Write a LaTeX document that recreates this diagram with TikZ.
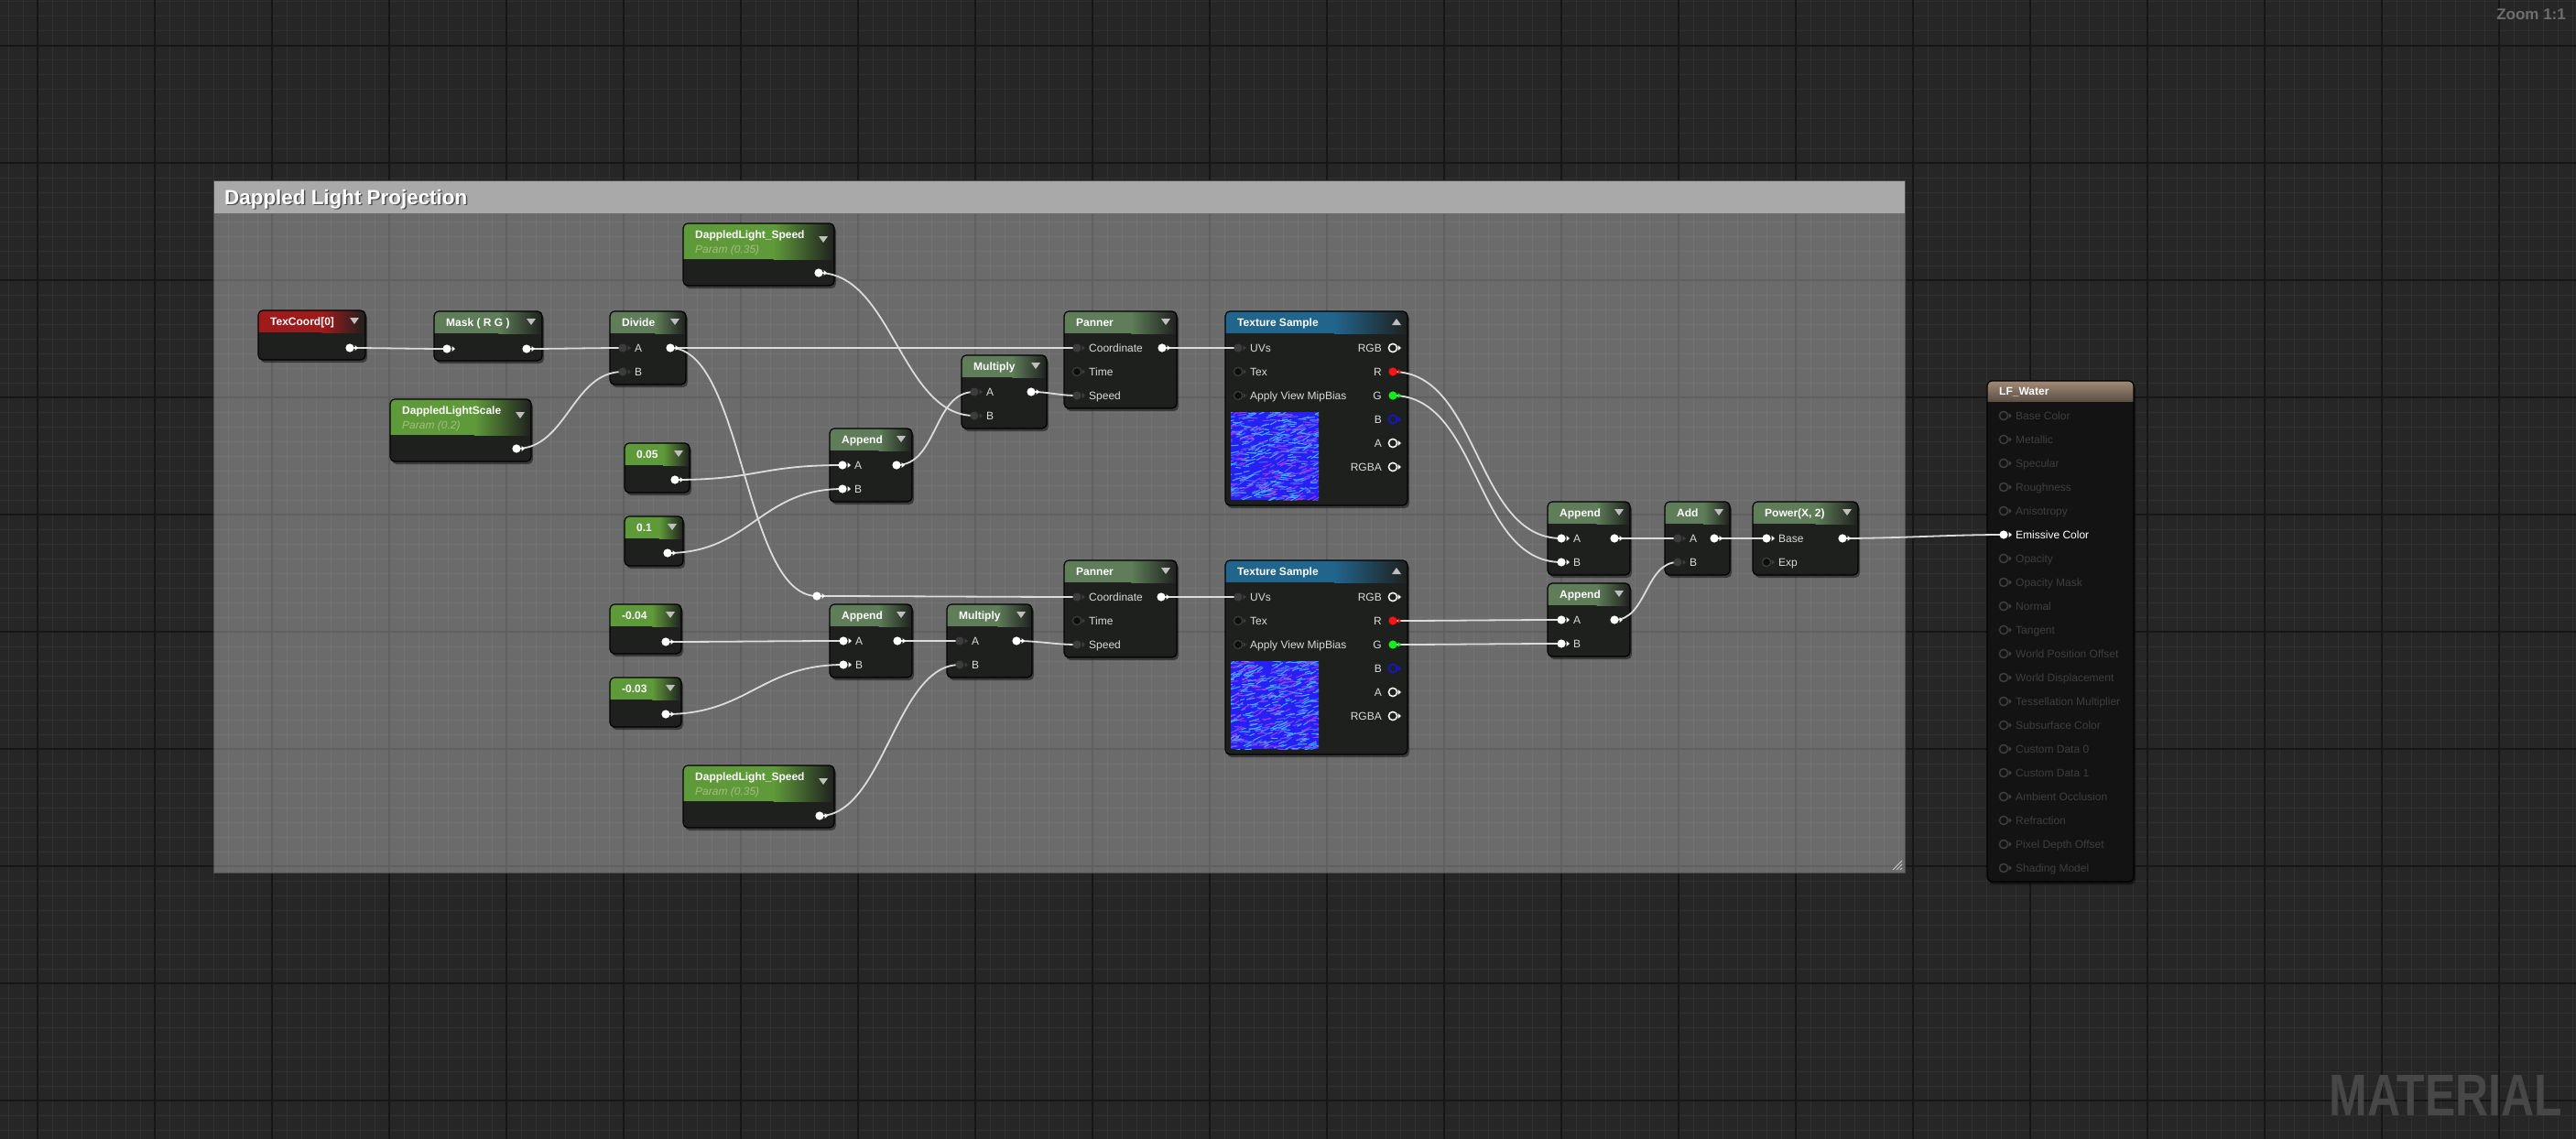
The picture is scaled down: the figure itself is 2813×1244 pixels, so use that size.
\documentclass[tikz,border=0pt]{standalone}
\usepackage{fontspec}
\setmainfont{Liberation Sans}
\usetikzlibrary{positioning}

\definecolor{canvasc}{HTML}{262626}
\definecolor{finec}{HTML}{303030}
\definecolor{boldc}{HTML}{161616}
\definecolor{cmtbarc}{HTML}{A9A9A9}
\definecolor{nodebodyc}{HTML}{1E201E}
\definecolor{hdrop}{HTML}{5E7D58}
\definecolor{hdrconst}{HTML}{5F9A3A}
\definecolor{hdrcoord}{HTML}{9E1B1B}
\definecolor{hdrtex}{HTML}{21648C}
\definecolor{paramc}{HTML}{A3BE80}
\definecolor{wirec}{HTML}{DCDCDC}
\definecolor{labelc}{HTML}{DADADA}
\definecolor{pingreyc}{HTML}{3C3C3C}
\definecolor{pinredc}{HTML}{FF1414}
\definecolor{pingreenc}{HTML}{14F014}
\definecolor{pinbluec}{HTML}{1414E0}
\definecolor{dimc}{HTML}{3E3E3E}
\definecolor{texbasec}{HTML}{2620F4}
\definecolor{texcyanc}{HTML}{44A6FF}
\definecolor{texpinkc}{HTML}{9A36E6}
\definecolor{texlightc}{HTML}{5A5AFF}
\definecolor{resultA}{HTML}{A08B76}
\definecolor{resultB}{HTML}{5E5045}
\definecolor{lfbodyc}{HTML}{131313}

\tikzset{
  gridfine/.style={draw=finec, line width=1pt},
  gridbold/.style={draw=boldc, line width=1.2pt},
  nodebox/.style={anchor=north west, fill=nodebodyc, rounded corners=5pt, inner sep=0pt, outer sep=0pt},
  nodeedge/.style={draw=black, line width=1.2pt, rounded corners=5pt},
  nodeshadow/.style={fill=black, opacity=.45, rounded corners=5pt},
  hdrtext/.style={anchor=west, inner sep=0pt, text=white, font=\bfseries\fontsize{12}{14}\selectfont, text height=8.6pt, text depth=0pt},
  paramtext/.style={anchor=west, inner sep=0pt, text=paramc, font=\itshape\fontsize{12}{14}\selectfont, text height=8.6pt, text depth=0pt},
  pinlabel/.style={inner sep=0pt, text=labelc, font=\fontsize{12}{14}\selectfont, text height=8.6pt, text depth=0pt},
  lflabel/.style={inner sep=0pt, text=dimc, font=\fontsize{12}{14}\selectfont, text height=8.6pt, text depth=0pt},
  cmttext/.style={anchor=base west, inner sep=0pt, text=white, font=\bfseries\fontsize{22.4}{26}\selectfont},
  droptri/.style={fill=white!75!black},
  wire/.style={draw=wirec, line width=1.8pt},
  pinon/.style={fill=white},
  pindim/.style={fill=pingreyc},
  pinfree/.style={fill=black!60!nodebodyc, draw=pingreyc, line width=1.2pt},
  pinring/.style={draw=white, line width=1.5pt},
  pinred/.style={fill=pinredc},
  pingreen/.style={fill=pingreenc},
  pinblue/.style={draw=pinbluec, line width=1.5pt},
  lfring/.style={draw=dimc, line width=1.5pt}
}

\newcommand\matnode[8]{%
  \fill[nodeshadow] (#2+2,#3+3) rectangle ++(#4,#5);
  \node[nodebox, minimum width=#4pt, minimum height=#5pt] (#1) at (#2,#3) {};
  \begin{scope}
    \clip[rounded corners=5pt] (#2,#3) rectangle ++(#4,#5);
    \fill[#7] (#2,#3) rectangle ++(.6*#4,#6);
    \shade[left color=#7, right color=nodebodyc] (#2+.6*#4-.5,#3) rectangle (#2+#4,#3+#6);
  \end{scope}
  \draw[nodeedge] (#2,#3) rectangle ++(#4,#5);
  \node[hdrtext] (#1-title) at (#2+13,#3+12) {#8};}

\newcommand\pin[3]{\path[#1] (#3) circle (4.6pt); \fill[#2] (#3) ++(5.5,-3) -- ++(3.5,3) -- ++(-3.5,3) -- cycle;}

\newcommand\texprev[2]{%
  \begin{scope}
    \clip (#1,#2) rectangle ++(96,96);
    \fill[texbasec] (#1,#2) rectangle ++(96,96);
    \foreach \k in {1,...,480}{
      \pgfmathsetmacro\tx{#1+104*rnd-8}
      \pgfmathsetmacro\ty{#2+100*rnd-2}
      \pgfmathsetmacro\tl{4+7*rnd}
      \pgfmathsetmacro\ta{-35+45*rnd}
      \pgfmathsetmacro\tc{rnd}
      \ifdim\tc pt<.5pt \def\tcol{texcyanc}\else\ifdim\tc pt<.75pt \def\tcol{texpinkc}\else\def\tcol{texlightc}\fi\fi
      \draw[\tcol, line width=1.1pt, line cap=round] (\tx,\ty) -- ++(\ta:\tl);
    }
  \end{scope}}

\begin{document}
\begin{tikzpicture}[x=1pt, y=-1pt]
  \useasboundingbox (0,0) rectangle (2813,1244);
  \fill[canvasc] (0,0) rectangle (2813,1244);
  \foreach \gx in {9,25,...,2813} \draw[gridfine] (\gx,0) -- (\gx,1244);
  \foreach \gy in {2,18,...,1244} \draw[gridfine] (0,\gy) -- (2813,\gy);
  \foreach \gx in {41,169,...,2813} \draw[gridbold] (\gx,0) -- (\gx,1244);
  \foreach \gy in {50,178,...,1244} \draw[gridbold] (0,\gy) -- (2813,\gy);

  \fill[white, opacity=.32] (233,197) rectangle (2080,953);
  \fill[cmtbarc] (233,197) rectangle (2080,233);
  \draw[black!70, line width=1pt] (233,197) rectangle (2080,953);
  \node[cmttext, text=black, opacity=.55] (cmt-shadow) at (246.5,224.5) {Dappled Light Projection};
  \node[cmttext] (cmt-title) at (245,223) {Dappled Light Projection};
  \foreach \k in {0,4,8} \draw[white!80!black, line width=1pt] (2077,940+\k) -- (2067+\k,950);

  \matnode{texcoord}{282}{339}{117}{54}{24}{hdrcoord}{TexCoord[0]}
  \matnode{mask}{474}{340}{118}{54}{24}{hdrop}{Mask ( R G )}
  \matnode{divide}{666}{340}{83}{80}{24}{hdrop}{Divide}
  \matnode{speedA}{746}{244}{165}{68}{39}{hdrconst}{DappledLight\_Speed}
  \matnode{scale}{426}{436}{154}{68}{39}{hdrconst}{DappledLightScale}
  \matnode{cA}{682}{484}{71}{54}{24}{hdrconst}{0.05}
  \matnode{cB}{682}{564}{64}{54}{24}{hdrconst}{0.1}
  \matnode{appendA}{906}{468}{90}{80}{24}{hdrop}{Append}
  \matnode{multA}{1050}{388}{93}{80}{24}{hdrop}{Multiply}
  \matnode{pannerA}{1162}{340}{123}{106}{24}{hdrop}{Panner}
  \matnode{texA}{1338}{340}{199}{212}{24}{hdrtex}{Texture Sample}
  \matnode{cC}{666}{660}{78}{54}{24}{hdrconst}{-0.04}
  \matnode{cD}{666}{740}{78}{54}{24}{hdrconst}{-0.03}
  \matnode{appendB}{906}{660}{90}{80}{24}{hdrop}{Append}
  \matnode{multB}{1034}{660}{93}{80}{24}{hdrop}{Multiply}
  \matnode{pannerB}{1162}{612}{123}{106}{24}{hdrop}{Panner}
  \matnode{texB}{1338}{612}{199}{212}{24}{hdrtex}{Texture Sample}
  \matnode{speedB}{746}{836}{165}{68}{39}{hdrconst}{DappledLight\_Speed}
  \matnode{appendC}{1690}{548}{90}{80}{24}{hdrop}{Append}
  \matnode{appendD}{1690}{637}{90}{80}{24}{hdrop}{Append}
  \matnode{add}{1818}{548}{71}{80}{24}{hdrop}{Add}
  \matnode{power}{1914}{548}{115}{80}{24}{hdrop}{Power(X, 2)}
  \node[paramtext] (speedA-sub) at (759,272) {Param (0.35)};
  \node[paramtext] (scale-sub) at (439,464) {Param (0.2)};
  \node[paramtext] (speedB-sub) at (759,864) {Param (0.35)};

  \fill[nodeshadow] (2172,419) rectangle ++(160,547);
  \node[nodebox, fill=lfbodyc, minimum width=160pt, minimum height=547pt] (lfwater) at (2170,416) {};
  \begin{scope}
    \clip[rounded corners=5pt] (2170,416) rectangle ++(160,547);
    \shade[top color=resultA, bottom color=resultB] (2170,416) rectangle ++(160,22);
  \end{scope}
  \draw[nodeedge] (2170,416) rectangle ++(160,547);
  \node[hdrtext] (lfwater-title) at (2183,427) {LF\_Water};

  \foreach \n in {texcoord,mask,divide,cA,cB,appendA,multA,pannerA,cC,cD,appendB,multB,pannerB,appendC,appendD,add,power}
    \fill[droptri] ([shift={(-17,8)}]\n.north east) -- ++(10,0) -- ++(-5,7) -- cycle;
  \foreach \n in {speedA,scale,speedB}
    \fill[droptri] ([shift={(-17,14)}]\n.north east) -- ++(10,0) -- ++(-5,7) -- cycle;
  \foreach \n in {texA,texB}
    \fill[droptri] ([shift={(-17,15)}]\n.north east) -- ++(10,0) -- ++(-5,-7) -- cycle;

  \pgfmathsetseed{17}
  \texprev{1344}{450}
  \texprev{1344}{722}

  \coordinate (texcoord-out) at (382,380);
  \coordinate (mask-in) at (488,381); \coordinate (mask-out) at (575,381);
  \coordinate (divide-a) at (680,380); \coordinate (divide-b) at (680,406); \coordinate (divide-out) at (732,380);
  \coordinate (speedA-out) at (894,298); \coordinate (scale-out) at (564,490);
  \coordinate (cA-out) at (737,524); \coordinate (cB-out) at (729,604);
  \coordinate (appendA-a) at (920,508); \coordinate (appendA-b) at (920,534); \coordinate (appendA-out) at (979,508);
  \coordinate (multA-a) at (1064,428); \coordinate (multA-b) at (1064,454); \coordinate (multA-out) at (1126,428);
  \coordinate (pannerA-coord) at (1176,380); \coordinate (pannerA-time) at (1176,406); \coordinate (pannerA-speed) at (1176,432); \coordinate (pannerA-out) at (1269,380);
  \coordinate (texA-uvs) at (1352,380); \coordinate (texA-tex) at (1352,406); \coordinate (texA-mip) at (1352,432);
  \coordinate (texA-rgb) at (1521,380); \coordinate (texA-r) at (1521,406); \coordinate (texA-g) at (1521,432);
  \coordinate (texA-b) at (1521,458); \coordinate (texA-a) at (1521,484); \coordinate (texA-rgba) at (1521,510);
  \coordinate (reroute) at (892,651);
  \coordinate (cC-out) at (727,701); \coordinate (cD-out) at (727,780);
  \coordinate (appendB-a) at (921,700); \coordinate (appendB-b) at (921,726); \coordinate (appendB-out) at (980,700);
  \coordinate (multB-a) at (1048,700); \coordinate (multB-b) at (1048,726); \coordinate (multB-out) at (1110,700);
  \coordinate (pannerB-coord) at (1176,652); \coordinate (pannerB-time) at (1176,678); \coordinate (pannerB-speed) at (1176,704); \coordinate (pannerB-out) at (1268,652);
  \coordinate (texB-uvs) at (1352,652); \coordinate (texB-tex) at (1352,678); \coordinate (texB-mip) at (1352,704);
  \coordinate (texB-rgb) at (1521,652); \coordinate (texB-r) at (1521,678); \coordinate (texB-g) at (1521,704);
  \coordinate (texB-b) at (1521,730); \coordinate (texB-a) at (1521,756); \coordinate (texB-rgba) at (1521,782);
  \coordinate (speedB-out) at (895,891);
  \coordinate (appendC-a) at (1705,588); \coordinate (appendC-b) at (1705,614); \coordinate (appendC-out) at (1763,588);
  \coordinate (appendD-a) at (1705,677); \coordinate (appendD-b) at (1705,703); \coordinate (appendD-out) at (1763,677);
  \coordinate (add-a) at (1832,588); \coordinate (add-b) at (1832,614); \coordinate (add-out) at (1872,588);
  \coordinate (power-base) at (1929,588); \coordinate (power-exp) at (1929,614); \coordinate (power-out) at (2012,588);
  \coordinate (lf-5) at (2188,584);

  \foreach \a/\b/\d in {texcoord-out/mask-in/30, mask-out/divide-a/30, scale-out/divide-b/55,
      divide-out/pannerA-coord/100, divide-out/reroute/80, reroute/pannerB-coord/60,
      speedA-out/multA-b/80, cA-out/appendA-a/90, cB-out/appendA-b/90, appendA-out/multA-a/45,
      multA-out/pannerA-speed/20, pannerA-out/texA-uvs/30, cC-out/appendB-a/60, cD-out/appendB-b/90,
      appendB-out/multB-a/30, speedB-out/multB-b/70, multB-out/pannerB-speed/25, pannerB-out/texB-uvs/30,
      texA-r/appendC-a/95, texA-g/appendC-b/95, texB-r/appendD-a/60, texB-g/appendD-b/60,
      appendC-out/add-a/25, appendD-out/add-b/35, add-out/power-base/25, power-out/lf-5/60}
    {\draw[wire] (\a) .. controls +(\d,0) and +(-\d,0) .. (\b);}

  \foreach \p in {texcoord-out,mask-in,mask-out,divide-out,speedA-out,scale-out,cA-out,cB-out,
      appendA-a,appendA-b,appendA-out,multA-out,pannerA-out,reroute,cC-out,cD-out,appendB-a,appendB-b,
      appendB-out,multB-out,pannerB-out,speedB-out,appendC-a,appendC-b,appendC-out,appendD-a,appendD-b,
      appendD-out,add-out,power-base,power-out,lf-5}
    {\pin{pinon}{white}{\p}}
  \foreach \p in {divide-a,divide-b,multA-a,multA-b,pannerA-coord,pannerA-speed,texA-uvs,
      multB-a,multB-b,pannerB-coord,pannerB-speed,texB-uvs,add-a,add-b}
    {\pin{pindim}{pingreyc}{\p}}
  \foreach \p in {pannerA-time,pannerB-time,texA-tex,texA-mip,texB-tex,texB-mip,power-exp}
    {\pin{pinfree}{pingreyc}{\p}}
  \foreach \p in {texA-rgb,texA-a,texA-rgba,texB-rgb,texB-a,texB-rgba} {\pin{pinring}{white}{\p}}
  \foreach \p in {texA-r,texB-r} {\pin{pinred}{pinredc}{\p}}
  \foreach \p in {texA-g,texB-g} {\pin{pingreen}{pingreenc}{\p}}
  \foreach \p in {texA-b,texB-b} {\pin{pinblue}{pinbluec}{\p}}

  \foreach \p/\t in {divide-a/A, divide-b/B, appendA-a/A, appendA-b/B, multA-a/A, multA-b/B,
      pannerA-coord/Coordinate, pannerA-time/Time, pannerA-speed/Speed,
      texA-uvs/UVs, texA-tex/Tex, texA-mip/Apply View MipBias,
      appendB-a/A, appendB-b/B, multB-a/A, multB-b/B,
      pannerB-coord/Coordinate, pannerB-time/Time, pannerB-speed/Speed,
      texB-uvs/UVs, texB-tex/Tex, texB-mip/Apply View MipBias,
      appendC-a/A, appendC-b/B, appendD-a/A, appendD-b/B, add-a/A, add-b/B, power-base/Base, power-exp/Exp}
    {\node[pinlabel, right=13pt of \p] (\p-t) {\t};}
  \foreach \p/\t in {texA-rgb/RGB, texA-r/R, texA-g/G, texA-b/B, texA-a/A, texA-rgba/RGBA,
      texB-rgb/RGB, texB-r/R, texB-g/G, texB-b/B, texB-a/A, texB-rgba/RGBA}
    {\node[pinlabel, left=12pt of \p] (\p-t) {\t};}

  \foreach \t/\i in {Base Color/0, Metallic/1, Specular/2, Roughness/3, Anisotropy/4, Opacity/6,
      Opacity Mask/7, Normal/8, Tangent/9, World Position Offset/10, World Displacement/11,
      Tessellation Multiplier/12, Subsurface Color/13, Custom Data 0/14, Custom Data 1/15,
      Ambient Occlusion/16, Refraction/17, Pixel Depth Offset/18, Shading Model/19}{
    \coordinate (lf-\i) at (2188,454+26*\i);
    \pin{lfring}{dimc}{lf-\i}
    \node[lflabel, right=13pt of lf-\i] (lf-\i-t) {\t};}
  \node[lflabel, text=white, right=13pt of lf-5] (lf-5-t) {Emissive Color};

  \node[anchor=east, inner sep=0pt, text=white!43!black, font=\bfseries\fontsize{17}{20}\selectfont] (zoomtag) at (2802,16) {Zoom 1:1};
  \node[anchor=base east, inner sep=0pt, text=white!28!black, font=\bfseries\fontsize{64}{70}\selectfont] (watermark) at (2798,1218) {\scalebox{.78}[1]{MATERIAL}};
\end{tikzpicture}
\end{document}
